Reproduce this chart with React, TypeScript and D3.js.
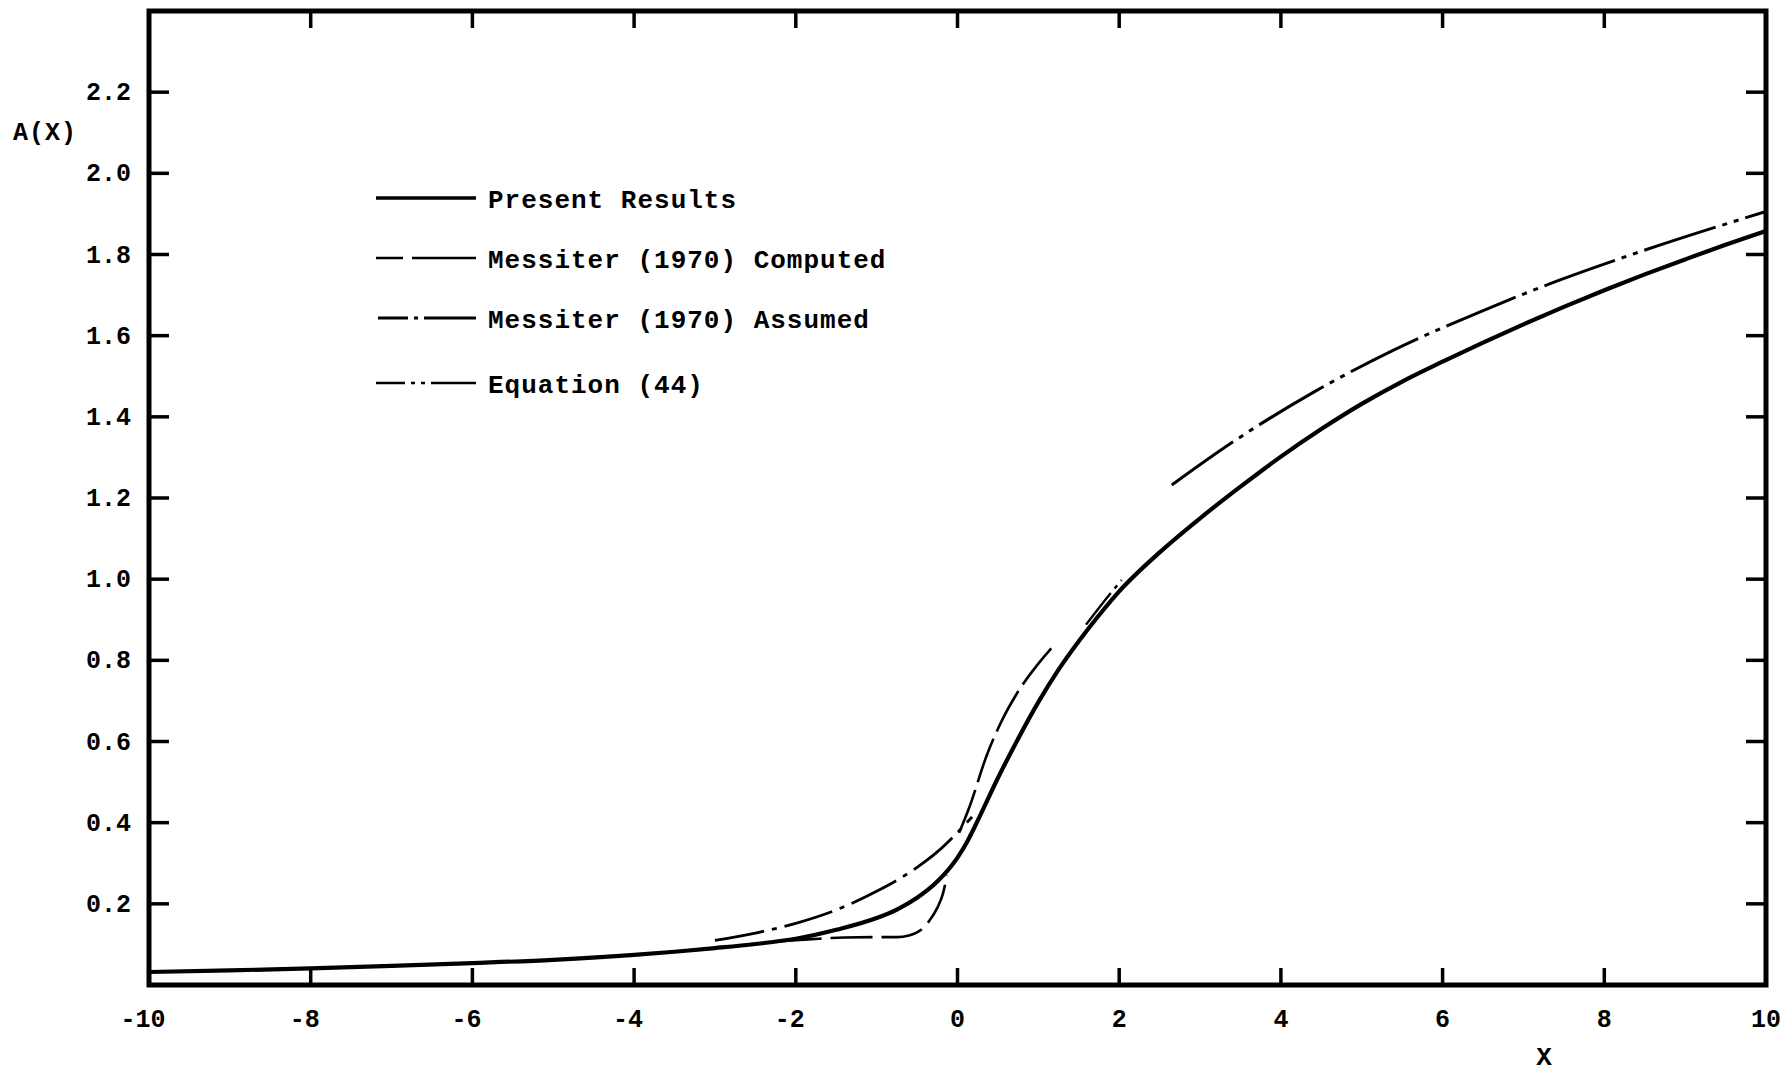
import React from "react";
import * as d3 from "d3";

// ---- data ----
const xTicks = [-10, -8, -6, -4, -2, 0, 2, 4, 6, 8, 10];
const yTicks = [0.2, 0.4, 0.6, 0.8, 1.0, 1.2, 1.4, 1.6, 1.8, 2.0, 2.2];
const xTickLabels = ["-10", "-8", "-6", "-4", "-2", "0", "2", "4", "6", "8", "10"];
const yTickLabels = ["0.2", "0.4", "0.6", "0.8", "1.0", "1.2", "1.4", "1.6", "1.8", "2.0", "2.2"];

const presentResults: [number, number][] = [
  [-10, 0.032], [-9, 0.036], [-8, 0.041], [-7, 0.047], [-6, 0.054], [-5, 0.062],
  [-4, 0.074], [-3.5, 0.082], [-3, 0.091], [-2.5, 0.101], [-2, 0.114], [-1.5, 0.136],
  [-1, 0.165], [-0.75, 0.186], [-0.5, 0.215], [-0.25, 0.255], [0, 0.314], [0.125, 0.355],
  [0.25, 0.405], [0.5, 0.51], [0.75, 0.607], [1, 0.697], [1.25, 0.777], [1.5, 0.847],
  [1.75, 0.911], [2, 0.97], [2.5, 1.066], [3, 1.15], [3.5, 1.228], [4, 1.302],
  [4.5, 1.37], [5, 1.432], [5.5, 1.487], [6, 1.536], [6.5, 1.583], [7, 1.628],
  [7.5, 1.671], [8, 1.712], [8.5, 1.751], [9, 1.788], [9.5, 1.824], [10, 1.858],
];

const messiterComputedLow: [number, number][] = [
  [-2.2, 0.108], [-1.8, 0.113], [-1.4, 0.117], [-1.0, 0.118], [-0.75, 0.118],
  [-0.6, 0.122], [-0.45, 0.136], [-0.35, 0.158], [-0.25, 0.19], [-0.18, 0.225], [-0.13, 0.27],
];
const messiterComputedHigh: [number, number][] = [
  [0.02, 0.375], [0.15, 0.44], [0.36, 0.565], [0.55, 0.652], [0.74, 0.72], [1.0, 0.792], [1.22, 0.843],
];

const messiterAssumed: [number, number][] = [
  [-3, 0.11], [-2.5, 0.128], [-2, 0.152], [-1.5, 0.185], [-1, 0.231], [-0.75, 0.258],
  [-0.5, 0.29], [-0.25, 0.328], [0, 0.376], [0.18, 0.414],
];

const equation44Inner: [number, number][] = [
  [1.59, 0.888], [1.8, 0.942], [2.03, 0.998],
];
const equation44Outer: [number, number][] = [
  [2.65, 1.232], [3.39, 1.336], [4.39, 1.459], [5.4, 1.565], [6.42, 1.655],
  [7.42, 1.735], [8.43, 1.806], [10, 1.906],
];

const legendLabels = [
  "Present Results",
  "Messiter (1970) Computed",
  "Messiter (1970) Assumed",
  "Equation (44)",
];

// ---- layout ----
const W = 1790;
const H = 1077;
const FONT = "'Liberation Mono', 'DejaVu Sans Mono', monospace";

export default function App() {
  const x = d3.scaleLinear().domain([-10, 10]).range([149, 1766]);
  const y = d3.scaleLinear().domain([0, 2.4]).range([985, 11]);

  const line = d3
    .line<[number, number]>()
    .x((d) => x(d[0]))
    .y((d) => y(d[1]))
    .curve(d3.curveMonotoneX);

  const x0 = x(-10), x1 = x(10), yTop = y(2.4), yBot = y(0);

  const legendY = [198, 258, 318, 383];
  const legendX0 = 376;
  const legendX1 = 476;
  const textX = 488;

  const tickStyle = { stroke: "#000", strokeWidth: 3.5 };

  return (
    <svg
      width={W}
      height={H}
      style={{ position: "absolute", left: 0, top: 0, background: "#fff" }}
      xmlns="http://www.w3.org/2000/svg"
    >
      <rect x={0} y={0} width={W} height={H} fill="#fff" />

      {/* frame */}
      <rect x={x0} y={yTop} width={x1 - x0} height={yBot - yTop} fill="none" stroke="#000" strokeWidth={5} />

      {/* x ticks: bottom (up) and top (down) */}
      {xTicks.slice(1, -1).map((t) => (
        <g key={"xt" + t}>
          <line x1={x(t)} x2={x(t)} y1={yBot} y2={yBot - 17} {...tickStyle} />
          <line x1={x(t)} x2={x(t)} y1={yTop} y2={yTop + 17} {...tickStyle} />
        </g>
      ))}
      {/* y ticks: left (right) and right (left) */}
      {yTicks.map((t) => (
        <g key={"yt" + t}>
          <line x1={x0} x2={x0 + 20} y1={y(t)} y2={y(t)} {...tickStyle} />
          <line x1={x1} x2={x1 - 20} y1={y(t)} y2={y(t)} {...tickStyle} />
        </g>
      ))}

      {/* tick labels */}
      {xTicks.map((t, i) => (
        <text
          key={"xl" + t}
          x={x(t) + (t < 0 ? -6 : 0)}
          y={1027}
          textAnchor="middle"
          fontFamily={FONT}
          fontWeight="bold"
          fontSize={25}
        >
          {xTickLabels[i]}
        </text>
      ))}
      {yTicks.map((t, i) => (
        <text
          key={"yl" + t}
          x={131}
          y={y(t) + 8}
          textAnchor="end"
          fontFamily={FONT}
          fontWeight="bold"
          fontSize={25}
        >
          {yTickLabels[i]}
        </text>
      ))}

      {/* axis titles */}
      <text x={13} y={140} fontFamily={FONT} fontWeight="bold" fontSize={25} letterSpacing={1}>A(X)</text>
      <text x={1544} y={1065} textAnchor="middle" fontFamily={FONT} fontWeight="bold" fontSize={26}>X</text>

      {/* series */}
      <path d={line(presentResults) || ""} fill="none" stroke="#000" strokeWidth={4.2} strokeLinecap="round" strokeLinejoin="round" />
      <path d={line(messiterComputedLow) || ""} fill="none" stroke="#000" strokeWidth={2.6} strokeDasharray="42 9" />
      <path d={line(messiterComputedHigh) || ""} fill="none" stroke="#000" strokeWidth={2.6} strokeDasharray="46 8" />
      <path d={line(messiterAssumed) || ""} fill="none" stroke="#000" strokeWidth={2.8} strokeDasharray="50 8 5 8" />
      <path d={line(equation44Inner) || ""} fill="none" stroke="#000" strokeWidth={2.4} strokeDasharray="40 6 4 6 4 6" />
      <path d={line(equation44Outer) || ""} fill="none" stroke="#000" strokeWidth={3} strokeDasharray="75 7 5 7 5 7" />

      {/* legend */}
      <line x1={legendX0} x2={legendX1} y1={legendY[0]} y2={legendY[0]} stroke="#000" strokeWidth={3.5} />
      <line x1={legendX0} x2={legendX1} y1={legendY[1]} y2={legendY[1]} stroke="#000" strokeWidth={2.6} strokeDasharray="27 9 71" />
      <line x1={legendX0 + 2} x2={legendX1} y1={legendY[2]} y2={legendY[2]} stroke="#000" strokeWidth={2.8} strokeDasharray="30 6 4 6 60" />
      <line x1={legendX0} x2={legendX1} y1={legendY[3]} y2={legendY[3]} stroke="#000" strokeWidth={2.6} strokeDasharray="29 6 4 6 4 6 60" />
      {legendLabels.map((label, i) => (
        <text
          key={label}
          x={textX}
          y={legendY[i] + 10}
          fontFamily={FONT}
          fontWeight="bold"
          fontSize={26}
          letterSpacing={1}
        >
          {label}
        </text>
      ))}
    </svg>
  );
}
